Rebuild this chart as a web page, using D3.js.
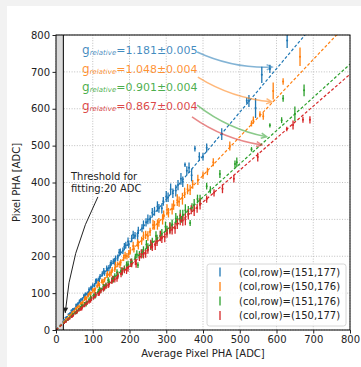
<!DOCTYPE html>
<html>
<head>
<meta charset="utf-8">
<script src="https://cdn.jsdelivr.net/npm/d3@7/dist/d3.min.js"></script>
<style>
  html, body { margin: 0; padding: 0; background: #f2f2f2; }
  svg { display: block; font-family: "DejaVu Sans", sans-serif; }
</style>
</head>
<body>
<svg id="chart" width="361" height="367"></svg>
<script>
// Pixel PHA vs. average pixel PHA for four neighbouring pixels.
// Each point: [average PHA, pixel PHA, error] in ADC.
const pixelLabels = ["(col,row)=(151,177)", "(col,row)=(150,176)", "(col,row)=(151,176)", "(col,row)=(150,177)"];
const colors = ["#1f77b4", "#ff7f0e", "#2ca02c", "#d62728"];
const gains = [1.181, 1.048, 0.901, 0.867];
const gainErrors = ["0.005", "0.004", "0.004", "0.004"];
const xTicks = [0, 100, 200, 300, 400, 500, 600, 700, 800];
const yTicks = [0, 100, 200, 300, 400, 500, 600, 700, 800];
const fitThreshold = 20;

const pixel151_177 = [
  [22,27,3],[26,33,3],[30,35,3],[34,42,3],[38,44,4],[42,52,4],[44,48,4],[46,56,4],[50,57,4],[55,68,4],[58,66,5],[60,71,5],
  [64,78,5],[66,75,5],[68,82,5],[72,84,5],[76,93,5],[78,90,6],[80,97,5],[85,98,6],[88,100,6],[90,110,6],[95,114,6],[98,112,7],
  [100,121,6],[105,122,6],[108,132,7],[110,133,7],[115,135,7],[118,138,8],[120,145,7],[126,152,7],[130,160,8],[132,154,7],
  [138,167,8],[140,160,9],[144,168,8],[148,176,9],[150,182,8],[156,186,8],[160,185,10],[162,194,8],[168,196,9],[172,210,10],
  [175,212,9],[182,215,9],[186,226,10],[190,230,9],[196,240,11],[198,232,10],[206,248,10],[210,258,11],[215,256,10],[222,255,12],
  [224,270,10],[234,276,11],[238,285,12],[245,292,11],[250,300,13],[256,300,11],[262,318,13],[268,322,12],[276,335,14],[280,330,12],
  [288,330,14],[292,349,12],[300,362,15],[305,360,13],[312,382,15],[318,371,13],[326,378,16],[332,393,14],[340,410,16],[345,402,14],
  [351,448,6],[356,432,12],[362,440,14],[369,420,17],[378,492,8],[390,470,12],[400,470,10],[410,494,12],[451,531,16],[519,622,8],
  [525,621,16],[543,602,27],[560,692,22],[582,708,11],[629,785,20]
];
const pixel150_176 = [
  [22,24,3],[27,30,3],[32,33,3],[36,40,3],[40,41,4],[44,45,4],[45,49,4],[50,51,4],[54,58,4],[56,62,5],[58,63,4],[63,64,5],
  [68,73,5],[70,70,5],[73,75,5],[78,84,5],[80,88,6],[83,86,5],[88,95,6],[92,100,6],[94,97,6],[100,108,6],[104,107,7],[106,110,6],
  [112,119,6],[115,126,7],[118,122,7],[125,133,7],[128,130,8],[132,136,7],[139,148,7],[140,152,8],[146,151,8],[150,155,9],
  [153,163,8],[160,165,8],[162,176,9],[168,178,8],[174,178,10],[176,183,9],[184,196,9],[188,202,10],[193,200,9],[198,206,11],
  [202,215,10],[210,228,11],[212,220,10],[222,236,10],[224,230,12],[233,242,11],[238,255,12],[244,258,11],[250,255,13],[256,266,11],
  [264,285,13],[268,284,12],[276,286,14],[280,292,12],[290,300,14],[293,312,12],[302,326,15],[306,318,13],[316,328,15],[320,339,13],
  [330,352,16],[335,348,14],[344,356,16],[350,372,14],[358,382,14],[365,380,14],[372,395,12],[386,407,14],[400,420,10],[412,430,10],
  [428,455,11],[473,499,12],[532,560,8],[537,569,10],[555,585,8],[564,580,10],[591,648,23],[618,674,9],[664,741,25]
];
const pixel151_176 = [
  [22,20,3],[27,24,3],[32,28,3],[37,34,3],[42,37,4],[44,41,4],[47,43,4],[52,46,4],[56,48,5],[57,52,4],[62,55,5],[67,61,5],
  [70,66,5],[72,64,5],[78,71,5],[82,70,6],[84,74,6],[90,82,6],[94,88,6],[96,85,6],[102,93,6],[106,92,7],[108,96,7],[115,104,7],
  [118,110,7],[122,108,7],[129,118,7],[132,115,8],[136,121,8],[142,135,8],[144,131,8],[152,135,8],[156,138,9],[160,146,8],
  [166,156,9],[168,150,9],[177,161,9],[180,158,10],[186,166,9],[192,176,10],[196,178,10],[204,182,11],[206,184,10],[216,197,10],
  [220,205,11],[223,176,8],[227,203,11],[234,208,12],[238,216,11],[246,232,12],[250,224,11],[258,230,13],[262,238,12],[272,255,13],
  [275,246,12],[284,255,14],[288,262,12],[298,280,14],[302,270,13],[310,278,15],[316,287,13],[326,302,15],[330,296,14],[338,310,16],
  [342,300,9],[345,312,14],[352,325,16],[360,322,14],[365,290,8],[370,332,12],[376,340,15],[385,355,12],[392,352,15],[410,390,9],
  [420,380,10],[446,423,11],[487,450,10],[492,455,13],[532,490,6],[582,555,6],[614,569,8],[618,628,9],[650,586,20],[675,650,16]
];
const pixel150_177 = [
  [22,19,3],[27,23,3],[32,28,3],[37,31,3],[42,37,4],[44,37,4],[47,40,4],[52,46,4],[56,50,5],[57,49,4],[62,55,5],[67,57,5],
  [70,58,5],[72,64,5],[78,67,5],[82,73,6],[84,74,6],[90,77,6],[94,80,6],[96,85,6],[102,88,6],[106,94,7],[108,95,7],[115,99,7],
  [118,100,7],[122,107,7],[129,111,7],[132,116,8],[136,119,8],[142,122,8],[144,124,8],[152,133,8],[154,138,9],[160,137,8],
  [166,140,9],[168,147,9],[177,152,9],[180,160,10],[186,163,9],[192,162,10],[196,168,10],[204,182,11],[206,180,10],[216,186,10],
  [218,180,11],[227,198,11],[232,206,12],[238,205,11],[244,208,12],[250,218,11],[258,232,13],[262,226,12],[270,230,13],[275,240,12],
  [284,255,14],[288,248,12],[296,252,14],[302,263,13],[310,275,15],[316,272,13],[324,276,15],[330,288,14],[338,300,16],[345,297,14],
  [352,300,16],[360,314,14],[368,326,12],[376,324,15],[384,330,12],[392,342,15],[410,355,10],[430,372,10],[453,383,12],[484,410,10],
  [549,469,12],[628,545,6],[645,556,12],[672,570,8],[691,570,10]
];
const seriesPoints = [pixel151_177, pixel150_176, pixel151_176, pixel150_177];

// Arrow from each gain label to its fit line: [x0, y0, x1, y1] in ADC.
const gainArrows = [
  [384, 754, 588, 713],
  [386, 686, 587, 619],
  [384, 610, 573, 524],
  [370, 578, 560, 502]
];
const thresholdArrow = [114, 361, 25, 46];

const svg = d3.select("#chart");
const W = 361, H = 367;
const m = { left: 56, top: 35, right: 11, bottom: 37 };
const pw = W - m.left - m.right, ph = H - m.top - m.bottom;

// white figure panel
svg.append("rect").attr("x", 7).attr("y", 6).attr("width", W - 7).attr("height", H - 6).attr("fill", "#fff");

const x = d3.scaleLinear().domain([0, 800]).range([m.left, m.left + pw]);
const y = d3.scaleLinear().domain([0, 800]).range([m.top + ph, m.top]);

const defs = svg.append("defs");
defs.append("clipPath").attr("id", "plotclip").append("rect")
  .attr("x", m.left).attr("y", m.top).attr("width", pw).attr("height", ph);

// grid
const grid = svg.append("g");
xTicks.forEach(t => grid.append("line").attr("x1", x(t)).attr("x2", x(t)).attr("y1", m.top).attr("y2", m.top + ph)
  .attr("stroke", "#b0b0b0").attr("stroke-width", 0.8).attr("stroke-dasharray", "1,1.6"));
yTicks.forEach(t => grid.append("line").attr("y1", y(t)).attr("y2", y(t)).attr("x1", m.left).attr("x2", m.left + pw)
  .attr("stroke", "#b0b0b0").attr("stroke-width", 0.8).attr("stroke-dasharray", "1,1.6"));

// region below the fitting threshold
svg.append("rect").attr("x", x(0)).attr("y", m.top).attr("width", x(fitThreshold) - x(0)).attr("height", ph)
  .attr("fill", "#dadada");
svg.append("line").attr("x1", x(fitThreshold)).attr("x2", x(fitThreshold)).attr("y1", m.top).attr("y2", m.top + ph)
  .attr("stroke", "#000").attr("stroke-width", 1);

const plot = svg.append("g").attr("clip-path", "url(#plotclip)");

// data with error bars
seriesPoints.forEach((pts, i) => {
  const g = plot.append("g");
  g.selectAll("line").data(pts).join("line")
    .attr("x1", d => x(d[0])).attr("x2", d => x(d[0]))
    .attr("y1", d => y(d[1] - d[2])).attr("y2", d => y(d[1] + d[2]))
    .attr("stroke", colors[i]).attr("stroke-width", 1.3);
  g.selectAll("circle").data(pts).join("circle")
    .attr("cx", d => x(d[0])).attr("cy", d => y(d[1])).attr("r", 1)
    .attr("fill", colors[i]);
});

// linear fits through the origin
gains.forEach((k, i) => {
  plot.append("line")
    .attr("x1", x(0)).attr("y1", y(0)).attr("x2", x(800)).attr("y2", y(800 * k))
    .attr("stroke", colors[i]).attr("stroke-width", 1.2).attr("stroke-dasharray", "3,2");
});

// curved arrow helper (quadratic curve bent by rad)
function curvedArrow(p0, p1, rad, color, opacity, width, filledHead) {
  const [x0, y0] = p0, [x1, y1] = p1;
  const dx = x1 - x0, dy = y1 - y0;
  const cx = (x0 + x1) / 2 + rad * dy, cy = (y0 + y1) / 2 - rad * dx;
  const gA = svg.append("g").attr("opacity", opacity);
  gA.append("path").attr("d", `M${x0},${y0} Q${cx},${cy} ${x1},${y1}`)
    .attr("fill", "none").attr("stroke", color).attr("stroke-width", width);
  const ang = Math.atan2(y1 - cy, x1 - cx);
  const L = 6, A = 0.45;
  const a1 = [x1 - L * Math.cos(ang - A), y1 - L * Math.sin(ang - A)];
  const a2 = [x1 - L * Math.cos(ang + A), y1 - L * Math.sin(ang + A)];
  if (filledHead) {
    gA.append("path").attr("d", `M${a1}L${x1},${y1}L${a2}Z`).attr("fill", color);
  } else {
    gA.append("path").attr("d", `M${a1}L${x1},${y1}L${a2}`)
      .attr("fill", "none").attr("stroke", color).attr("stroke-width", width);
  }
}

gainArrows.forEach((a, i) => {
  curvedArrow([x(a[0]), y(a[1])], [x(a[2]), y(a[3])], -0.12, colors[i], 0.55, 1.5, false);
});

// gain labels
gains.forEach((k, i) => {
  const t = svg.append("text").attr("x", m.left + 26).attr("y", m.top + 19 + i * 18.5)
    .attr("fill", colors[i]).attr("fill-opacity", 0.85).attr("font-size", 12);
  t.append("tspan").text("g");
  t.append("tspan").attr("font-size", 7).attr("font-style", "italic").attr("dy", 1).text("relative");
  t.append("tspan").attr("dy", -1).attr("font-size", 11).text(`=${k.toFixed(3)}\u00b1${gainErrors[i]}`);
});

// threshold note
const note = svg.append("text").attr("x", 71).attr("y", 180).attr("font-size", 10).attr("fill", "#222");
note.append("tspan").attr("x", 71).text("Threshold for");
note.append("tspan").attr("x", 71).attr("dy", 11.5).text("fitting:20 ADC");
curvedArrow([x(thresholdArrow[0]), y(thresholdArrow[1])], [x(thresholdArrow[2]), y(thresholdArrow[3])],
  -0.1, "#222", 1, 1, true);

// frame
svg.append("rect").attr("x", m.left).attr("y", m.top).attr("width", pw).attr("height", ph)
  .attr("fill", "none").attr("stroke", "#000").attr("stroke-width", 1);

// axes
const xAxis = svg.append("g").attr("transform", `translate(0,${m.top + ph})`)
  .call(d3.axisBottom(x).tickValues(xTicks).tickSize(3.5).tickPadding(2.5).tickFormat(d3.format("d")));
const yAxis = svg.append("g").attr("transform", `translate(${m.left},0)`)
  .call(d3.axisLeft(y).tickValues(yTicks).tickSize(3.5).tickPadding(2.5).tickFormat(d3.format("d")));
[xAxis, yAxis].forEach(a => {
  a.select(".domain").remove();
  a.selectAll("text").attr("font-size", 10).attr("font-family", "DejaVu Sans").attr("fill", "#222");
  a.selectAll("line").attr("stroke", "#222");
});

svg.append("text").attr("x", m.left + pw / 2).attr("y", 357).attr("text-anchor", "middle")
  .attr("font-size", 10).attr("fill", "#222").text("Average Pixel PHA [ADC]");
svg.append("text").attr("transform", `translate(20,${m.top + ph / 2}) rotate(-90)`).attr("text-anchor", "middle")
  .attr("font-size", 10).attr("fill", "#222").text("Pixel PHA [ADC]");

// legend
const lg = svg.append("g");
lg.append("rect").attr("x", 207).attr("y", 264).attr("width", 139).attr("height", 62).attr("rx", 2.5)
  .attr("fill", "#fff").attr("fill-opacity", 0.85).attr("stroke", "#cccccc").attr("stroke-width", 0.8);
pixelLabels.forEach((lab, i) => {
  const cy = 272 + i * 14.5;
  lg.append("line").attr("x1", 220).attr("x2", 220).attr("y1", cy - 4.5).attr("y2", cy + 4.5)
    .attr("stroke", colors[i]).attr("stroke-width", 1.3);
  lg.append("text").attr("x", 239).attr("y", cy + 3.6).attr("font-size", 10).attr("fill", "#222").text(lab);
});
</script>
</body>
</html>
